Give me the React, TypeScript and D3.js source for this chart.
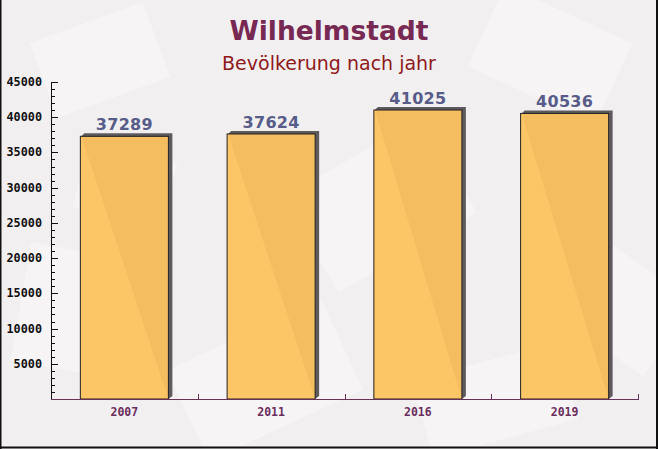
import React from "react";
import * as d3 from "d3";

const years = ["2007", "2011", "2016", "2019"];
const population = [37289, 37624, 41025, 40536];
const yTicks = [5000, 10000, 15000, 20000, 25000, 30000, 35000, 40000, 45000];
const title = "Wilhelmstadt";
const subtitle = "Bevölkerung nach jahr";

const W = 658;
const H = 449;
const left = 51;
const right = 638;
const top = 82;
const bottom = 399;

const decor = [
  { x: 40, y: 20, w: 120, h: 80, r: -20 },
  { x: 480, y: 10, w: 140, h: 90, r: 25 },
  { x: 300, y: 150, w: 160, h: 110, r: -30 },
  { x: 20, y: 250, w: 100, h: 120, r: 10 },
  { x: 180, y: 330, w: 170, h: 100, r: -25 },
  { x: 560, y: 260, w: 120, h: 90, r: 35 },
  { x: 420, y: 360, w: 150, h: 80, r: -15 },
  { x: 80, y: 150, w: 90, h: 70, r: 15 },
];

export default function App() {
  const x = d3.scaleBand<string>().domain(years).range([left, right]).paddingInner(0.4).paddingOuter(0.2);
  const band = d3.scaleBand<string>().domain(years).range([left, right]);
  const y = d3.scaleLinear().domain([0, 45000]).range([bottom, top]);
  const minor = d3.range(1000, 45001, 1000);

  return (
    <svg width={W} height={H} style={{ position: "absolute", left: 0, top: 0 }}>
      <rect x={0} y={0} width={W} height={H} fill="#f2eff1" />
      {decor.map((d, i) => (
        <rect
          key={i}
          x={d.x}
          y={d.y}
          width={d.w}
          height={d.h}
          fill="#ffffff"
          opacity={0.3}
          transform={`rotate(${d.r} ${d.x + d.w / 2} ${d.y + d.h / 2})`}
        />
      ))}
      <text x={329} y={40} textAnchor="middle" fontFamily="DejaVu Sans" fontWeight="bold" fontSize={26.5} fill="#772953">
        {title}
      </text>
      <text x={329} y={70} textAnchor="middle" fontFamily="DejaVu Sans" fontSize={19} fill="#8e1a1a">
        {subtitle}
      </text>

      {years.map((yr, i) => {
        const x0 = x(yr)!;
        const x1 = x0 + x.bandwidth();
        const yt = y(population[i]);
        const shadow = `${x0 + 1},${yt} ${x0 + 4},${yt - 3} ${x1 + 4},${yt - 3} ${x1 + 4},${bottom - 3} ${x1},${bottom}`;
        return (
          <g key={yr}>
            <polygon points={shadow} fill="#5e5a5e" />
            <rect x={x0} y={yt} width={x.bandwidth()} height={bottom - yt} fill="#fcc35f" fillOpacity={0.95} stroke="#222" strokeWidth={1} />
            <text x={(x0 + x1) / 2} y={yt - 6} textAnchor="middle" fontFamily="DejaVu Sans" fontWeight="bold" fontSize={16} letterSpacing={0.3} fill="#575c89">
              {population[i]}
            </text>
            <text x={(x0 + x1) / 2} y={416} textAnchor="middle" fontFamily="DejaVu Sans Mono" fontWeight="bold" fontSize={11.5} fill="#6b2d5c">
              {yr}
            </text>
          </g>
        );
      })}

      {/* y axis */}
      <line x1={left + 0.5} x2={left + 0.5} y1={top} y2={bottom} stroke="#111" />
      {minor.map((v) => (
        <line key={v} x1={left} x2={left + (v % 5000 === 0 ? 7 : 4)} y1={Math.round(y(v)) + 0.5} y2={Math.round(y(v)) + 0.5} stroke="#111" />
      ))}
      {yTicks.map((v) => (
        <text key={v} x={42} y={y(v) + 4} textAnchor="end" fontFamily="DejaVu Sans Mono" fontWeight="bold" fontSize={11.8} fill="#111">
          {v}
        </text>
      ))}

      {/* x axis */}
      <line x1={left} x2={right + 1} y1={bottom + 0.5} y2={bottom + 0.5} stroke="#6b3058" />
      {years.map((yr) => {
        const bx = Math.round(band(yr)! + band.bandwidth()) + 0.5;
        return <line key={yr} x1={bx} x2={bx} y1={bottom} y2={bottom - 5} stroke="#6b3058" />;
      })}

      {/* frame */}
      <line x1={0.5} x2={0.5} y1={0} y2={H} stroke="#111" strokeWidth={2} />
      <line x1={W - 1} x2={W - 1} y1={0} y2={H} stroke="#111" strokeWidth={2} />
      <line x1={0} x2={W} y1={H - 1.5} y2={H - 1.5} stroke="#111" strokeWidth={2} />
    </svg>
  );
}
